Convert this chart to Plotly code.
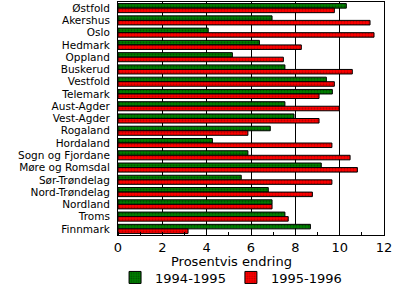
import plotly.graph_objects as go

categories = ["Østfold", "Akershus", "Oslo", "Hedmark", "Oppland", "Buskerud",
              "Vestfold", "Telemark", "Aust-Agder", "Vest-Agder", "Rogaland",
              "Hordaland", "Sogn og Fjordane", "Møre og Romsdal", "Sør-Trøndelag",
              "Nord-Trøndelag", "Nordland", "Troms", "Finnmark"]
v_9495 = [10.3, 6.95, 4.07, 6.38, 5.16, 7.53, 9.40, 9.67, 7.53, 7.94, 6.87,
          4.26, 5.86, 9.17, 5.56, 6.78, 6.95, 7.53, 8.68]
v_9596 = [9.76, 11.37, 11.55, 8.27, 7.46, 10.57, 9.76, 9.07, 9.98, 9.07, 5.86,
          9.65, 10.47, 10.80, 9.65, 8.77, 6.95, 7.68, 3.16]
series_names = ["1994-1995", "1995-1996"]
x_ticks = [0, 2, 4, 6, 8, 10, 12]

FONT = "DejaVu Sans"

fig = go.Figure()
fig.add_trace(go.Bar(
    y=categories, x=v_9495, orientation="h", name=series_names[0],
    marker=dict(color="#008000", line=dict(color="black", width=1),
                pattern=dict(shape=".", fgcolor="#002000", bgcolor="#008000",
                             size=3, solidity=0.35)),
))
fig.add_trace(go.Bar(
    y=categories, x=v_9596, orientation="h", name=series_names[1],
    marker=dict(color="#ff0000", line=dict(color="black", width=1),
                pattern=dict(shape=".", fgcolor="#800000", bgcolor="#ff0000",
                             size=3, solidity=0.35)),
))

fig.update_layout(
    width=400, height=290,
    margin=dict(l=118, r=16, t=2, b=55, autoexpand=False),
    paper_bgcolor="white", plot_bgcolor="white",
    barmode="group", bargap=0.26, bargroupgap=0,
    font=dict(family=FONT, size=11, color="black"),
    showlegend=True,
    legend=dict(orientation="h", x=0.425, xanchor="center", y=-0.118,
                yanchor="top", font=dict(family=FONT, size=13),
                itemwidth=30, tracegroupgap=0, bgcolor="rgba(0,0,0,0)"),
    annotations=[dict(text="Prosentvis endring", xref="paper", yref="paper",
                      x=0.425, y=-0.075, xanchor="center", yanchor="top",
                      showarrow=False, font=dict(family=FONT, size=13))],
)
fig.update_xaxes(
    range=[0, 12], tickvals=x_ticks, ticks="", showgrid=True,
    gridcolor="black", gridwidth=1, showline=True, linecolor="black",
    linewidth=1, mirror=True, zeroline=False, automargin=False,
    tickfont=dict(family=FONT, size=13),
    minor=dict(dtick=1, ticks="inside", ticklen=3, tickcolor="black", showgrid=False),
)
fig.update_yaxes(
    autorange="reversed", showline=True, linecolor="black", linewidth=1,
    mirror=True, ticks="", showgrid=False, tickfont=dict(family=FONT, size=10.5),
    tickmode="array", tickvals=categories, automargin=False,
    ticklabelstandoff=5,
)

fig.write_html("out.html")
